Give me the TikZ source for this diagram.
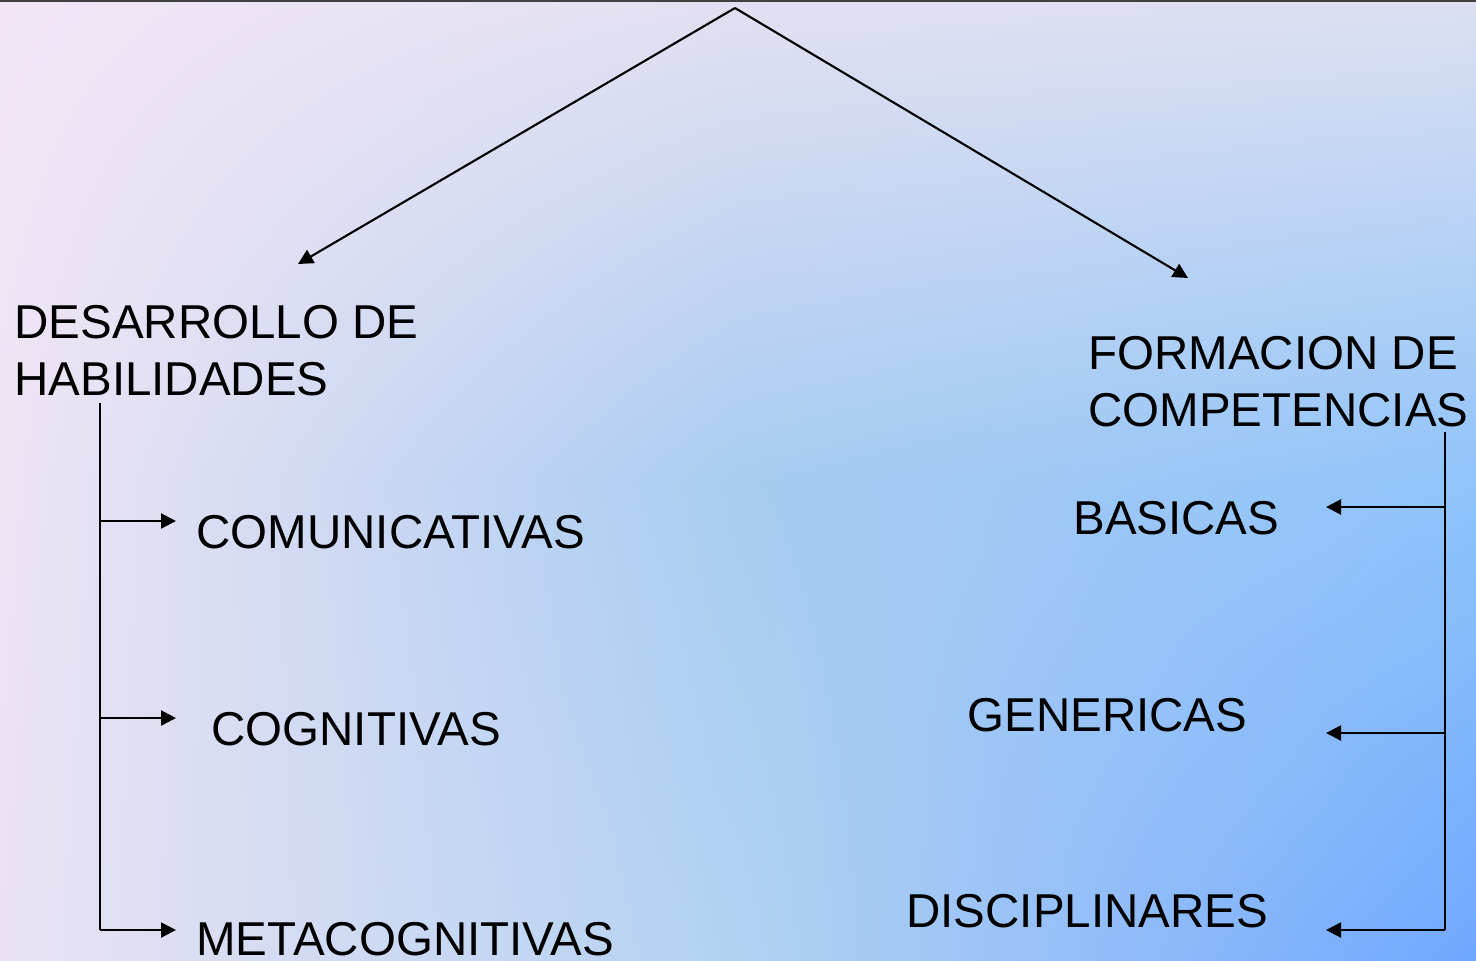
\documentclass[tikz,border=0pt]{standalone}
\usepackage{fontspec}
\setmainfont{Liberation Sans}
\usetikzlibrary{arrows.meta,shadings}
\definecolor{cAA}{HTML}{F2E6F6}
\definecolor{cBA}{HTML}{E2E0F2}
\definecolor{cCA}{HTML}{DCE0F2}
\definecolor{cAB}{HTML}{EEE4F4}
\definecolor{cBB}{HTML}{A8CCF2}
\definecolor{cCB}{HTML}{90C4FA}
\definecolor{cAC}{HTML}{EAE2F4}
\definecolor{cBC}{HTML}{B2D2F2}
\definecolor{cCC}{HTML}{70A8FF}
\tikzset{
  lbl/.style={inner sep=0pt, anchor=base west, align=left, font=\fontsize{23.75}{28.5}\selectfont},
  conn/.style={line width=1.05pt, black},
  arr/.style={conn, -{Triangle[length=7.5pt,width=7.5pt]}},
}
\begin{document}
\begin{tikzpicture}[x=0.5pt,y=-0.5pt]
\useasboundingbox (0,0) rectangle (1476,960);
% background
\shade[upper left=cAA, upper right=cBA, lower left=cAB, lower right=cBB] (0,0) rectangle (738,480);
\shade[upper left=cBA, upper right=cCA, lower left=cBB, lower right=cCB] (738,0) rectangle (1476,480);
\shade[upper left=cAB, upper right=cBB, lower left=cAC, lower right=cBC] (0,480) rectangle (738,960);
\shade[upper left=cBB, upper right=cCB, lower left=cBC, lower right=cCC] (738,480) rectangle (1476,960);
\draw[line width=0.8pt, black!75] (0,0.8) -- (1476,0.8);
% text
\node[lbl] (des) at (14,395) {DESARROLLO DE\\HABILIDADES};
\node[lbl] (for) at (1088,426) {FORMACION DE\\COMPETENCIAS};
\node[lbl] (com) at (196,548) {COMUNICATIVAS};
\node[lbl] (cog) at (211,745) {COGNITIVAS};
\node[lbl] (met) at (196,955) {METACOGNITIVAS};
\node[lbl] (bas) at (1073,534) {BASICAS};
\node[lbl] (gen) at (967,731) {GENERICAS};
\node[lbl] (dis) at (906,927) {DISCIPLINARES};
% coordinates
\coordinate (apex) at (735,8);
\coordinate (tdes) at (298,264);
\coordinate (tfor) at (1188,278);
\coordinate (ltop) at (100,403);
\coordinate (l1) at (100,521);
\coordinate (l2) at (100,718);
\coordinate (l3) at (100,930);
\coordinate (tcom) at (176,521);
\coordinate (tcog) at (176,718);
\coordinate (tmet) at (176,930);
\coordinate (rtop) at (1445,432);
\coordinate (r1) at (1445,507);
\coordinate (r2) at (1445,733);
\coordinate (r3) at (1445,930);
\coordinate (tbas) at (1326,507);
\coordinate (tgen) at (1326,733);
\coordinate (tdis) at (1326,930);
% connectors
\draw[arr] (apex) -- (tdes);
\draw[arr] (apex) -- (tfor);
\draw[conn] (ltop) -- (l3);
\draw[arr] (l1) -- (tcom);
\draw[arr] (l2) -- (tcog);
\draw[arr] (l3) -- (tmet);
\draw[conn] (rtop) -- (r3);
\draw[arr] (r1) -- (tbas);
\draw[arr] (r2) -- (tgen);
\draw[arr] (r3) -- (tdis);
\end{tikzpicture}
\end{document}
